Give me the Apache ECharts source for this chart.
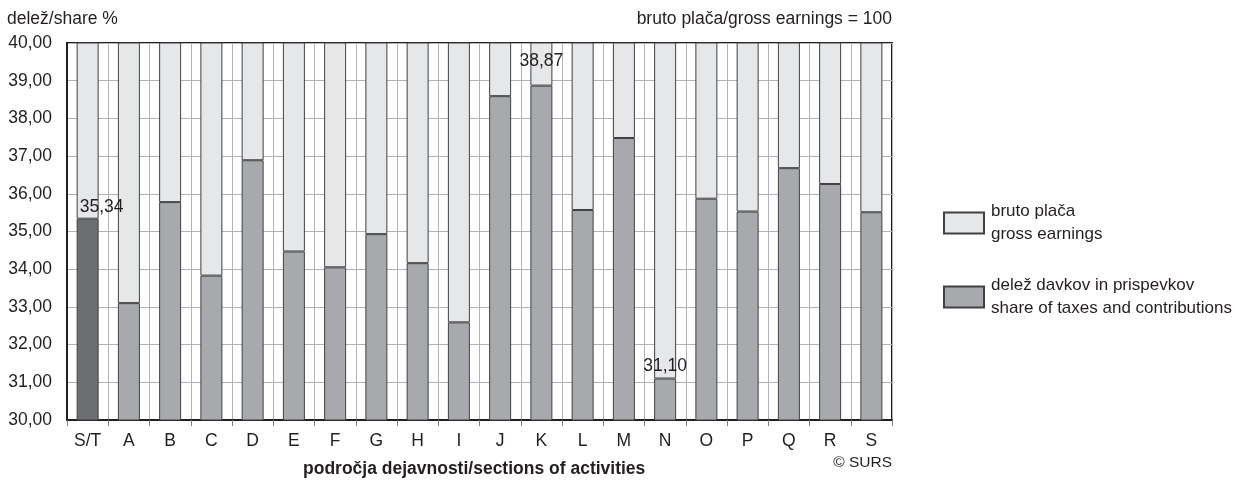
<!DOCTYPE html>
<html>
<head>
    <meta http-equiv="content-type" content="text/html;charset=utf-8" />
    <title>Delež davkov in prispevkov</title>
    <script src="https://cdn.jsdelivr.net/npm/echarts@6/dist/echarts.min.js"></script>
    <style type="text/css">
        * { margin: 0; padding: 0 }
        html, body { background: #fff; font-family: "Liberation Sans", Arial, sans-serif; }
        #chart { width: 1247px; height: 480px; }
    </style>
</head>
<body>
<div id="chart"></div>
<script>
    // podatki
    var categories = ['S/T', 'A', 'B', 'C', 'D', 'E', 'F', 'G', 'H', 'I', 'J', 'K', 'L', 'M', 'N', 'O', 'P', 'Q', 'R', 'S'];
    var taxShare = [35.34, 33.10, 35.78, 33.83, 36.89, 34.47, 34.05, 34.93, 34.16, 32.59, 38.59, 38.87, 35.57, 37.48, 31.10, 35.87, 35.53, 36.68, 36.26, 35.51];
    var grossTotal = 100;
    var labelled = ['S/T', 'K', 'N'];
    var yTicks = [30, 31, 32, 33, 34, 35, 36, 37, 38, 39, 40];

    var dark = '#231f20';
    var fs = 17.5;
    var font = '"Liberation Sans", Arial, sans-serif';

    function fmt(v) {
        return v.toFixed(2).replace('.', ',');
    }

    var taxData = [];
    var restData = [];
    for (var i = 0; i < categories.length; i++) {
        var item = { value: taxShare[i] };
        if (categories[i] == 'S/T') {
            item.itemStyle = { color: '#6d6e71' };
        }
        if (labelled.indexOf(categories[i]) >= 0) {
            item.label = {
                show: true,
                position: 'top',
                distance: 3,
                formatter: fmt(taxShare[i]),
                color: dark,
                fontSize: fs
            };
            if (categories[i] == 'S/T') item.label.offset = [14, 0];
            if (categories[i] == 'K') item.label.offset = [0, -12];
        }
        taxData.push(item);
        restData.push(grossTotal - taxShare[i]);
    }

    var chart = echarts.init(document.getElementById('chart'));
    chart.setOption({
        animation: false,
        textStyle: { fontFamily: font },
        grid: {
            left: 67, right: 355, top: 43, bottom: 60,
            show: true,
            borderColor: dark,
            borderWidth: 2,
            backgroundColor: '#fff'
        },
        legend: {
            orient: 'vertical',
            left: 943,
            top: 200,
            padding: 0,
            icon: 'rect',
            itemWidth: 40,
            itemHeight: 21,
            itemGap: 28,
            data: ['bruto plača\ngross earnings', 'delež davkov in prispevkov\nshare of taxes and contributions'],
            textStyle: { color: dark, fontSize: 17, lineHeight: 23, padding: [0, 0, 0, 2] }
        },
        xAxis: {
            type: 'category',
            data: categories,
            axisLine: { lineStyle: { color: dark, width: 2 } },
            axisTick: { show: true, interval: 0, length: 6, lineStyle: { color: '#808080' } },
            axisLabel: { color: dark, fontSize: fs, margin: 12, interval: 0 },
            splitLine: { show: true, interval: 0, lineStyle: { color: '#b1b3b6', width: 1 } }
        },
        yAxis: {
            type: 'value',
            min: yTicks[0],
            max: yTicks[yTicks.length - 1],
            interval: 1,
            axisLine: { show: true, lineStyle: { color: dark, width: 2 } },
            axisTick: { show: false },
            axisLabel: { color: dark, fontSize: fs, margin: 15, formatter: function (v) { return fmt(v); } },
            splitLine: { lineStyle: { color: '#b1b3b6', width: 1 } }
        },
        series: [
            {
                name: 'delež davkov in prispevkov\nshare of taxes and contributions',
                type: 'bar',
                stack: 'total',
                barWidth: 22,
                itemStyle: { color: '#a7a9ac', borderColor: '#414042', borderWidth: 1 },
                data: taxData
            },
            {
                name: 'bruto plača\ngross earnings',
                type: 'bar',
                stack: 'total',
                barWidth: 22,
                itemStyle: { color: '#e6e7e8', borderColor: '#414042', borderWidth: 1 },
                data: restData
            }
        ],
        graphic: [
            {
                type: 'text', left: 7, top: 10,
                style: { text: 'delež/share %', fill: dark, fontSize: fs, fontFamily: font }
            },
            {
                type: 'text', right: 355, top: 10,
                style: { text: 'bruto plača/gross earnings = 100', fill: dark, fontSize: fs, fontFamily: font }
            },
            {
                type: 'text', right: 355, top: 455,
                style: { text: '© SURS', fill: dark, fontSize: 15.5, fontFamily: font }
            },
            {
                type: 'text', left: 303, top: 460,
                style: { text: 'področja dejavnosti/sections of activities', fill: dark, fontSize: fs, fontWeight: 'bold', fontFamily: font }
            }
        ]
    });
</script>
</body>
</html>
